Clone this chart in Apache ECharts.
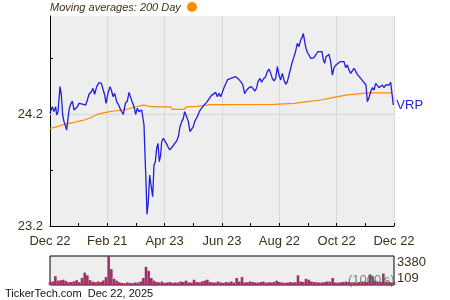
<!DOCTYPE html>
<html><head><meta charset="utf-8">
<script src="https://cdn.jsdelivr.net/npm/echarts@6/dist/echarts.min.js"></script>
<style>html,body{margin:0;padding:0;background:#fff}#c{width:450px;height:300px}</style>
</head><body><div id="c"></div>
<script>
const tickLabels = ['Dec 22','Feb 21','Apr 23','Jun 23','Aug 22','Oct 22','Dec 22'];
const pricePoints = [[0,24.206],[1.75,24.265],[3,24.221],[4.25,24.265],[5,24.191],[6,24.221],[7.5,24.444],[8.5,24.370],[9.5,24.191],[10.5,24.132],[11.75,24.087],[12.5,24.057],[13.5,24.161],[14.5,24.251],[15.5,24.286],[16.75,24.316],[18,24.236],[19.25,24.236],[20.5,24.265],[21.75,24.295],[24.25,24.289],[25.5,24.304],[26.75,24.280],[28,24.325],[29.25,24.376],[31,24.399],[32.25,24.429],[33.5,24.376],[35,24.444],[36.75,24.480],[38.5,24.474],[40,24.465],[41,24.370],[42,24.295],[43.5,24.385],[45,24.444],[46,24.414],[47.25,24.355],[48.5,24.385],[50,24.310],[51.5,24.280],[53,24.236],[55,24.197],[56.5,24.295],[58,24.316],[59.25,24.393],[60.5,24.385],[61.75,24.304],[63,24.265],[64.25,24.197],[65.5,24.251],[66.75,24.221],[68.75,24.236],[69.75,24.251],[70.5,24.102],[71.25,23.834],[72,23.596],[72.75,23.304],[73.75,23.417],[74.75,23.655],[75.75,23.566],[77,23.462],[78,23.745],[79,23.774],[80,23.893],[81,23.938],[82,23.774],[83,23.834],[83.75,23.953],[85,23.983],[86,23.968],[87.25,23.938],[88.5,23.908],[89.75,23.879],[91,23.888],[92.25,23.914],[93.5,23.938],[95,23.959],[96.25,23.998],[97.5,24.087],[98.75,24.132],[100,24.161],[101,24.221],[101.75,24.227],[102.5,24.176],[103.75,24.132],[105,24.042],[106.25,24.057],[107.5,24.087],[108.5,24.132],[109.5,24.155],[110.5,24.176],[111.75,24.215],[113,24.242],[114.25,24.257],[115.5,24.280],[117.5,24.304],[119.25,24.334],[121,24.364],[122.5,24.376],[124.25,24.393],[125.5,24.355],[126.75,24.385],[128,24.355],[129.25,24.393],[130.5,24.435],[132,24.474],[133,24.504],[134.25,24.513],[135.5,24.518],[137,24.533],[139.25,24.533],[141.25,24.513],[143,24.489],[144.5,24.465],[146,24.382],[147.5,24.414],[149.25,24.435],[151,24.444],[152.5,24.429],[153.75,24.405],[155,24.435],[156,24.489],[157.5,24.518],[158.75,24.483],[160,24.513],[161.75,24.533],[163,24.578],[164.25,24.602],[165.5,24.563],[166.75,24.518],[168,24.495],[169.25,24.518],[170.5,24.623],[171.75,24.548],[173,24.504],[174.25,24.563],[175.5,24.504],[176.75,24.465],[178,24.489],[179.25,24.548],[180.5,24.608],[181.75,24.667],[183,24.712],[184.25,24.763],[185.5,24.831],[186.75,24.801],[188,24.861],[189,24.882],[190,24.920],[191,24.846],[192,24.786],[193,24.751],[194.25,24.727],[195.5,24.697],[196.75,24.688],[198,24.703],[199.5,24.733],[201,24.757],[202.5,24.774],[204,24.757],[205,24.682],[206,24.652],[207,24.712],[208,24.697],[209.25,24.733],[210.5,24.667],[211.75,24.548],[213,24.614],[214.5,24.638],[216,24.652],[217.5,24.667],[219,24.682],[220.5,24.667],[221.75,24.614],[223,24.638],[224.25,24.593],[225.5,24.563],[226.75,24.578],[228,24.608],[229.25,24.614],[230.5,24.554],[231.75,24.548],[233,24.518],[234.5,24.495],[236,24.489],[237,24.459],[238,24.310],[239.25,24.346],[240.5,24.399],[241.75,24.435],[243,24.414],[244.25,24.474],[245.5,24.474],[246.75,24.435],[248,24.429],[249.25,24.459],[250.5,24.435],[251.75,24.459],[253,24.444],[254.25,24.459],[255.5,24.483],[256.75,24.483],[257.5,24.280]];
const maPoints = [[0,24.072],[5.5,24.087],[10.5,24.108],[18,24.126],[25.5,24.146],[30.5,24.167],[35.5,24.197],[41.75,24.215],[48,24.227],[55.5,24.236],[63,24.260],[68,24.274],[71,24.280],[73,24.271],[78,24.263],[90.5,24.263],[91.75,24.242],[100.5,24.242],[102.5,24.263],[110.5,24.268],[118,24.280],[120.5,24.283],[168,24.286],[183,24.295],[193,24.310],[203,24.325],[213,24.349],[223,24.370],[233,24.382],[238,24.388],[248,24.388],[256.75,24.388]];
const volumes = [450,500,1100,600,650,700,550,420,450,520,650,420,900,1500,1200,650,480,420,500,450,620,1000,3380,1900,800,600,420,350,300,400,350,320,400,380,500,900,2150,1700,900,600,450,400,500,350,400,450,350,400,380,500,450,600,400,380,700,450,400,500,600,700,450,400,380,500,400,350,450,400,500,380,900,500,1000,400,420,500,450,400,380,450,500,380,420,400,450,600,450,400,350,380,450,400,420,1200,500,450,800,700,500,450,420,380,400,450,500,480,900,400,380,420,450,500,450,400,420,380,450,500,480,450,1300,1100,600,500,450,1400,500,450,400,420];
const volTicks = [109, 3380];

const chart = echarts.init(document.getElementById('c'), null, {renderer:'canvas'});
const volData = volumes.map((v,i)=>[i*2, v]);
const brown = '#3d3118';
chart.setOption({
  animation:false,
  backgroundColor:'#fff',
  grid:[
    {left:50, top:16, width:344, height:210, show:true, backgroundColor:'#eeeeee', borderWidth:0},
    {left:50, top:256, width:344, height:29, show:true, backgroundColor:'#eeeeee', borderColor:'#000', borderWidth:1}
  ],
  xAxis:[
    {type:'value', gridIndex:0, min:0, max:258, interval:43,
     axisLine:{show:true, onZero:false, lineStyle:{color:'#000', width:1}},
     axisTick:{show:true, inside:true, length:3, lineStyle:{color:'#000'}},
     minorTick:{show:true, splitNumber:2, length:3, lineStyle:{color:'#000'}},
     splitLine:{show:true, lineStyle:{color:'#d9d9d9', width:1}},
     axisLabel:{color:brown, fontSize:13, fontFamily:'Liberation Sans, Arial', margin:9,
       formatter:(v)=>tickLabels[Math.round(v/43)] || ''}},
    {type:'value', gridIndex:1, min:0, max:258, show:false}
  ],
  yAxis:[
    {type:'value', gridIndex:0, min:23.2, max:25.075, interval:0.5,
     axisLine:{show:true, lineStyle:{color:'#000', width:1}},
     axisTick:{show:true, inside:true, length:3, lineStyle:{color:'#000'}},
     splitLine:{show:false},
     axisLabel:{color:brown, fontSize:13, fontFamily:'Liberation Sans, Arial', margin:7, showMaxLabel:false,
       formatter:(v)=> (Math.abs(v-24.2)<1e-6 || Math.abs(v-23.2)<1e-6) ? v.toFixed(1) : ''}},
    {type:'value', gridIndex:1, position:'right', min:volTicks[0], max:volTicks[1], interval:volTicks[1]-volTicks[0],
     axisLine:{show:false}, axisTick:{show:false}, splitLine:{show:false},
     axisLabel:{color:brown, fontSize:13, fontFamily:'Liberation Sans, Arial', margin:3,
       formatter:(v)=>String(Math.round(v)),
       verticalAlignMinLabel:'bottom', verticalAlignMaxLabel:'top'}}
  ],
  series:[
    {type:'line', xAxisIndex:0, yAxisIndex:0, data:maPoints, showSymbol:false, symbol:'none',
     lineStyle:{color:'#ff8c00', width:1.2}, silent:true, z:3},
    {type:'line', xAxisIndex:0, yAxisIndex:0, data:pricePoints, showSymbol:false, symbol:'none',
     lineStyle:{color:'#1f1fdc', width:1.3}, silent:true, z:4,
     endLabel:{show:true, formatter:'VRP', color:'#1f1fdc', fontSize:13, fontFamily:'Liberation Sans, Arial', distance:3},
     markLine:{silent:true, symbol:'none', label:{show:false}, lineStyle:{color:'#d9d9d9', type:'solid', width:1}, data:[{yAxis:24.2}], z:1}},
    {type:'bar', xAxisIndex:1, yAxisIndex:1, data:volData, barWidth:2.6, itemStyle:{color:'#9b3366'}, silent:true}
  ],
  graphic:[
    {type:'text', left:50, top:2, style:{text:'Moving averages: 200 Day', font:'italic 11px Liberation Sans, Arial', fill:brown}},
    {type:'circle', shape:{cx:192, cy:7, r:5}, style:{fill:'#ff8c00'}},
    {type:'text', left:348, top:274, z:10, style:{text:"(1000's)", font:'13px Liberation Sans, Arial', fill:'rgba(70,120,100,0.85)'}},
    {type:'text', left:5, top:288, style:{text:'TickerTech.com  Dec 22, 2025', font:'11px Liberation Sans, Arial', fill:'#111'}}
  ]
});
</script></body></html>
